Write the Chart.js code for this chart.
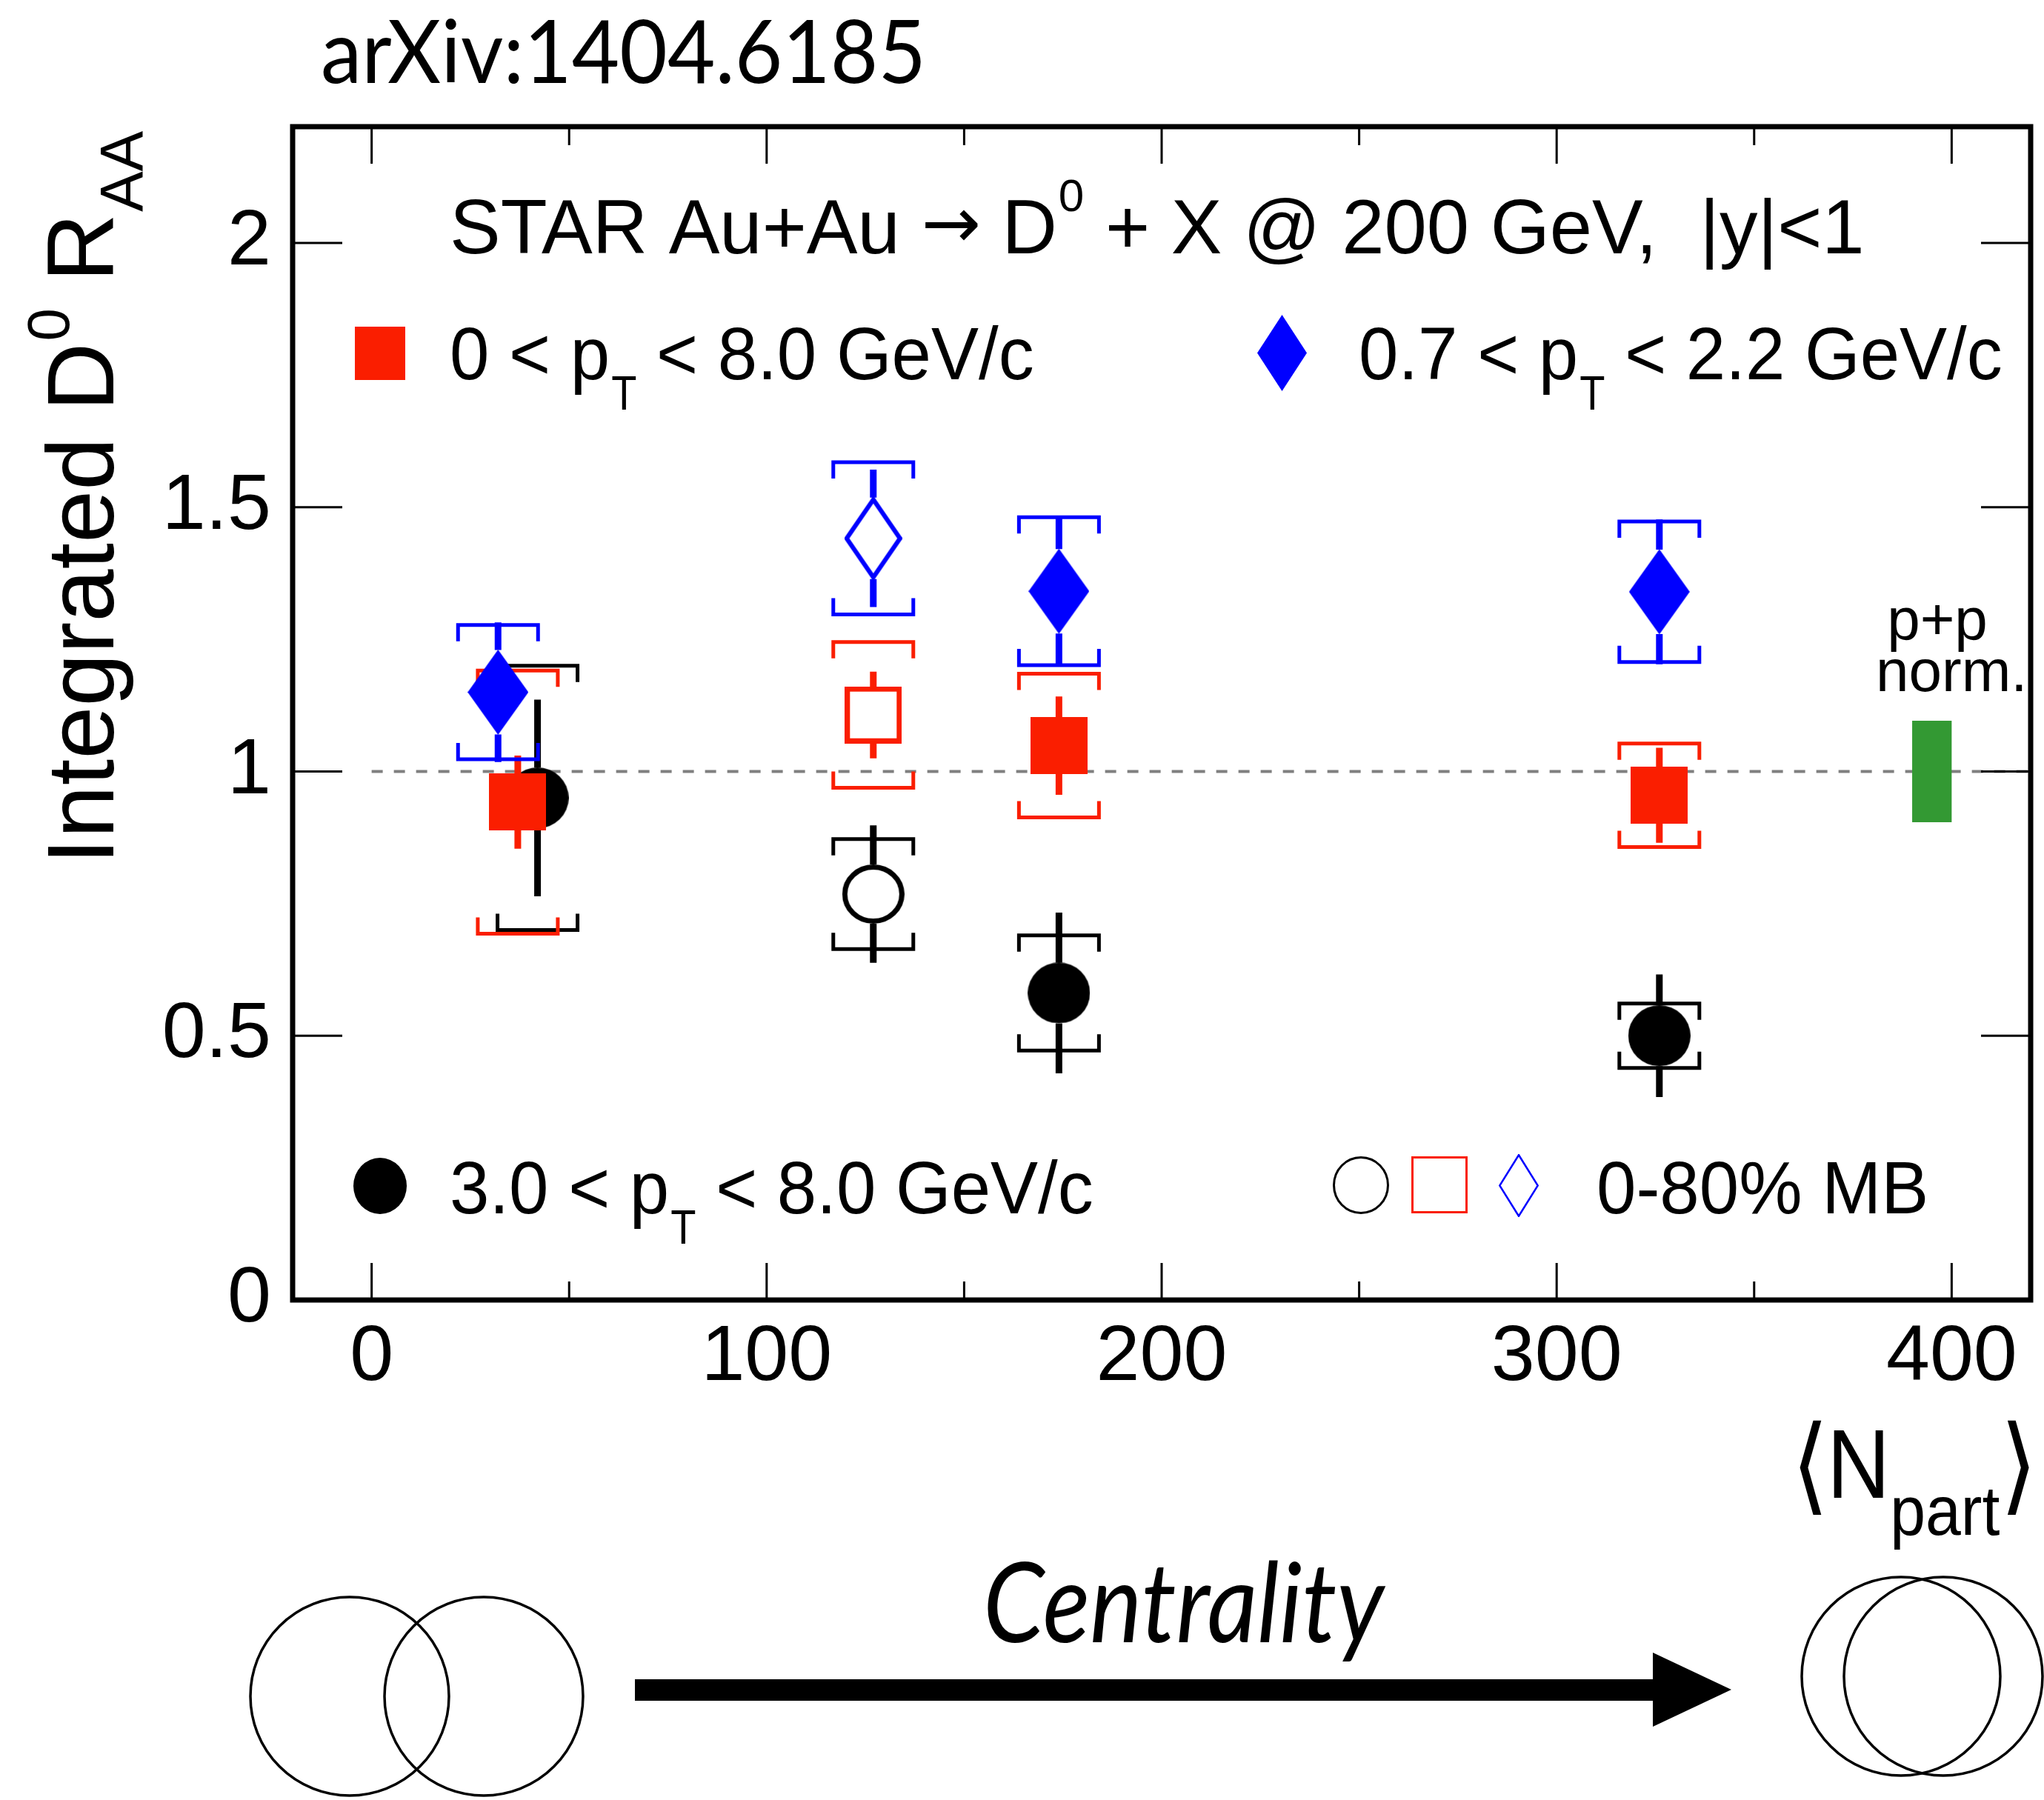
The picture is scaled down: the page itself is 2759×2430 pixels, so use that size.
<!DOCTYPE html>
<html>
<head>
<meta charset="utf-8">
<title>Integrated D0 RAA vs Npart</title>
<script src="https://cdn.jsdelivr.net/npm/chart.js@4.4.1/dist/chart.umd.min.js"></script>
<style>
  html, body { margin: 0; padding: 0; background: #fff; }
  canvas { display: block; }
</style>
</head>
<body>
<canvas id="raa" width="2759" height="2430"></canvas>
<script>
// axis ticks
const xTicks = [0, 100, 200, 300, 400];
const xMinorTicks = [50, 150, 250, 350];
const yTicks = [0, 0.5, 1, 1.5, 2];

// 0.7 < pT < 2.2 GeV/c
const npartBlue = [32, 174, 326];
const raaBlue = [1.150, 1.341, 1.340];
const statBlue = [0.132, 0.140, 0.137];
const sysBlue = [0.127, 0.140, 0.133];

// 0 < pT < 8.0 GeV/c
const npartRed = [37, 174, 326];
const raaRed = [0.942, 1.049, 0.955];
const statRed = [0.088, 0.093, 0.090];
const sysRed = [0.249, 0.136, 0.098];

// 3.0 < pT < 8.0 GeV/c
const npartBlack = [42, 174, 326];
const raaBlack = [0.950, 0.581, 0.500];
const statBlack = [0.186, 0.152, 0.116];
const sysBlack = [0.250, 0.109, 0.061];

// 0-80% minimum bias: [3.0-8.0, 0-8.0, 0.7-2.2]
const npartMB = 127;
const raaMB = [0.768, 1.107, 1.441];
const statMB = [0.130, 0.082, 0.130];
const sysMB = [0.104, 0.138, 0.144];

// p+p normalisation uncertainty box
const ppNormNpart = [390, 400];
const ppNormErr = 0.096;
const refLine = 1;

const ptLo = ['0', '0.7', '3.0'];
const ptHi = ['8.0', '2.2', '8.0'];

const SANS = '"Liberation Sans", Arial, Helvetica, sans-serif';
const GILL = 'Lato, "Open Sans", sans-serif';
const RED = '#fa1e00';
const BLUE = '#0000ff';
const BLACK = '#000000';

function marker(shape, w, h, color, fill, lw) {
  const c = document.createElement('canvas');
  c.width = w; c.height = h;
  const g = c.getContext('2d');
  g.fillStyle = color; g.strokeStyle = color; g.lineWidth = lw || 1;
  const i = fill ? 0 : lw / 2;
  g.beginPath();
  if (shape === 'square') {
    g.rect(i, i, w - 2 * i, h - 2 * i);
  } else if (shape === 'diamond') {
    g.moveTo(w / 2, i); g.lineTo(w - i, h / 2); g.lineTo(w / 2, h - i); g.lineTo(i, h / 2);
    g.closePath();
  } else {
    g.ellipse(w / 2, h / 2, w / 2 - i, h / 2 - i, 0, 0, 2 * Math.PI);
  }
  if (fill) g.fill(); else g.stroke();
  return c;
}

function points(xs, ys, stat, sys) {
  return ys.map((y, i) => ({ x: Array.isArray(xs) ? xs[i] : xs, y, stat: stat[i], sys: sys[i] }));
}

function series(data, color, style, half) {
  return { data, borderColor: color, backgroundColor: color, pointStyle: style, pointRadius: 40, half };
}

const datasets = [
  series(points(npartBlue, raaBlue, statBlue, sysBlue), BLUE, marker('diamond', 82, 115, BLUE, true), 57),
  series(points(npartMB, [raaMB[2]], [statMB[2]], [sysMB[2]]), BLUE, marker('diamond', 78, 111, BLUE, false, 6), 55),
  series(points(npartRed, raaRed, statRed, sysRed), RED, marker('square', 77, 77, RED, true), 38),
  series(points(npartMB, [raaMB[1]], [statMB[1]], [sysMB[1]]), RED, marker('square', 77, 77, RED, false, 7), 38),
  series(points(npartBlack, raaBlack, statBlack, sysBlack), BLACK, marker('circle', 84, 82, BLACK, true), 41),
  series(points(npartMB, [raaMB[0]], [statMB[0]], [sysMB[0]]), BLACK, marker('circle', 84, 80, BLACK, false, 7), 40)
];

// statistical bars + systematic brackets, drawn just below each series' markers
const errorBars = {
  id: 'errorBars',
  beforeDatasetDraw(chart, args) {
    const ds = chart.data.datasets[args.index];
    const { x, y } = chart.scales;
    const ctx = chart.ctx;
    const bw = 54, cap = 22;
    ctx.save();
    ctx.strokeStyle = ds.borderColor;
    ctx.lineCap = 'butt';
    ctx.lineJoin = 'miter';
    ds.data.forEach(p => {
      const px = x.getPixelForValue(p.x);
      const py = y.getPixelForValue(p.y);
      const top = y.getPixelForValue(p.y + p.sys);
      const bot = y.getPixelForValue(p.y - p.sys);
      ctx.lineWidth = 5;
      ctx.beginPath();
      ctx.moveTo(px - bw, top + cap); ctx.lineTo(px - bw, top); ctx.lineTo(px + bw, top); ctx.lineTo(px + bw, top + cap);
      ctx.moveTo(px - bw, bot - cap); ctx.lineTo(px - bw, bot); ctx.lineTo(px + bw, bot); ctx.lineTo(px + bw, bot - cap);
      ctx.stroke();
      const sTop = y.getPixelForValue(p.y + p.stat);
      const sBot = y.getPixelForValue(p.y - p.stat);
      ctx.lineWidth = 9;
      ctx.beginPath();
      if (sTop < py - ds.half) { ctx.moveTo(px, sTop); ctx.lineTo(px, py - ds.half); }
      if (sBot > py + ds.half) { ctx.moveTo(px, py + ds.half); ctx.lineTo(px, sBot); }
      ctx.stroke();
    });
    ctx.restore();
  }
};

// dashed unity line and p+p normalisation box
const reference = {
  id: 'reference',
  beforeDatasetsDraw(chart) {
    const { x, y } = chart.scales;
    const ctx = chart.ctx;
    ctx.save();
    ctx.strokeStyle = '#808080';
    ctx.lineWidth = 4;
    ctx.setLineDash([15, 15]);
    ctx.beginPath();
    ctx.moveTo(x.getPixelForValue(0), y.getPixelForValue(refLine));
    ctx.lineTo(chart.chartArea.right, y.getPixelForValue(refLine));
    ctx.stroke();
    ctx.setLineDash([]);
    ctx.fillStyle = '#339933';
    const x0 = x.getPixelForValue(ppNormNpart[0]), x1 = x.getPixelForValue(ppNormNpart[1]);
    const y0 = y.getPixelForValue(refLine + ppNormErr), y1 = y.getPixelForValue(refLine - ppNormErr);
    ctx.fillRect(x0, y0, x1 - x0, y1 - y0);
    ctx.restore();
  }
};

function put(ctx, s, x, y, size, o = {}) {
  ctx.save();
  ctx.font = `${o.style || ''} ${size}px ${o.family || SANS}`;
  ctx.fillStyle = '#000';
  ctx.textBaseline = 'alphabetic';
  ctx.textAlign = o.align || 'left';
  const w = ctx.measureText(s).width;
  const sx = o.width ? o.width / w : 1;
  ctx.translate(x, y);
  ctx.scale(sx, o.sy || 1);
  ctx.fillText(s, 0, 0);
  ctx.restore();
  return x + w * sx;
}

function ptLabel(ctx, i, x, y) {
  const px = put(ctx, ptLo[i] + ' < p', x, y, 96, { sy: 1.05 });
  const tx = put(ctx, 'T', px + 2, y + 41, 56, { sy: 1.15 });
  put(ctx, ' < ' + ptHi[i] + ' GeV/c', tx, y, 96, { sy: 1.05 });
}

const annotations = {
  id: 'annotations',
  afterDraw(chart) {
    const ctx = chart.ctx;
    const a = chart.chartArea;
    const { x, y } = chart.scales;

    put(ctx, 'arXiv:1404.6185', 433, 112, 118, { family: GILL, width: 817 });

    // header
    let cx = put(ctx, 'STAR Au+Au ', 607, 342, 103);
    cx = put(ctx, '\u2192', cx, 334, 96, { family: '"DejaVu Sans"' });
    cx = put(ctx, ' D', cx, 342, 103);
    cx = put(ctx, '0', cx + 2, 285, 62);
    put(ctx, ' + X @ 200 GeV,  |y|<1', cx, 342, 103);

    // legend
    ctx.drawImage(marker('square', 68, 72, RED, true), 479, 441);
    ptLabel(ctx, 0, 607, 512);
    ctx.drawImage(marker('diamond', 67, 103, BLUE, true), 1697, 425);
    ptLabel(ctx, 1, 1834, 512);
    ctx.drawImage(marker('circle', 72, 76, BLACK, true), 477, 1563);
    ptLabel(ctx, 2, 607, 1638);
    ctx.drawImage(marker('circle', 76, 78, BLACK, false, 3), 1799, 1561);
    ctx.drawImage(marker('square', 76, 77, RED, false, 3), 1905, 1561);
    ctx.drawImage(marker('diamond', 54, 85, BLUE, false, 2.5), 2023, 1558);
    put(ctx, '0-80% MB', 2155, 1638, 96, { sy: 1.05 });

    // p+p norm. label over the box
    put(ctx, 'p+p', 2615, 863, 80, { align: 'center' });
    put(ctx, 'norm.', 2532, 933, 80);

    // y axis title
    ctx.save();
    ctx.translate(153, 1167);
    ctx.rotate(-Math.PI / 2);
    cx = put(ctx, 'Integrated D', 0, 0, 128);
    cx = put(ctx, '0', cx + 2, -60, 80);
    cx = put(ctx, ' R', cx, 0, 128);
    put(ctx, 'AA', cx + 2, 39, 82);
    ctx.restore();

    // x axis title
    put(ctx, '\u27E8', 2418, 2026, 130, { family: '"DejaVu Sans"', sy: 1.1 });
    cx = put(ctx, 'N', 2466, 2022, 118, { sy: 1.12 });
    cx = put(ctx, 'part', cx, 2072, 86, { sy: 1.1 });
    put(ctx, '\u27E9', cx, 2026, 130, { family: '"DejaVu Sans"', sy: 1.1 });

    // centrality sketch
    ctx.save();
    ctx.strokeStyle = '#000';
    ctx.lineWidth = 3.5;
    [[472, 2290], [653, 2290], [2566, 2263], [2623, 2263]].forEach(([cxx, cyy]) => {
      ctx.beginPath();
      ctx.arc(cxx, cyy, 134, 0, 2 * Math.PI);
      ctx.stroke();
    });
    ctx.fillStyle = '#000';
    ctx.fillRect(857, 2267, 1380, 29);
    ctx.beginPath();
    ctx.moveTo(2231, 2231); ctx.lineTo(2337, 2281); ctx.lineTo(2231, 2331);
    ctx.closePath();
    ctx.fill();
    ctx.restore();
    put(ctx, 'Centrality', 1327, 2217, 150, { family: GILL, style: 'italic', width: 541 });

    // frame with inward ticks on all four sides
    ctx.save();
    ctx.strokeStyle = '#000';
    ctx.lineWidth = 3;
    ctx.beginPath();
    xTicks.forEach(v => {
      const px = x.getPixelForValue(v);
      ctx.moveTo(px, a.bottom); ctx.lineTo(px, a.bottom - 50);
      ctx.moveTo(px, a.top); ctx.lineTo(px, a.top + 50);
    });
    xMinorTicks.forEach(v => {
      const px = x.getPixelForValue(v);
      ctx.moveTo(px, a.bottom); ctx.lineTo(px, a.bottom - 25);
      ctx.moveTo(px, a.top); ctx.lineTo(px, a.top + 25);
    });
    yTicks.forEach(v => {
      const py = y.getPixelForValue(v);
      ctx.moveTo(a.left, py); ctx.lineTo(a.left + 67, py);
      ctx.moveTo(a.right, py); ctx.lineTo(a.right - 67, py);
    });
    ctx.stroke();
    ctx.lineWidth = 7;
    ctx.strokeRect(a.left, a.top, a.right - a.left, a.bottom - a.top);
    ctx.restore();
  }
};

new Chart(document.getElementById('raa'), {
  type: 'scatter',
  data: { datasets },
  options: {
    responsive: false,
    devicePixelRatio: 1,
    animation: false,
    events: [],
    layout: { autoPadding: false, padding: { top: 171, right: 18, left: 0, bottom: 0 } },
    plugins: { legend: { display: false }, tooltip: { enabled: false } },
    scales: {
      x: {
        type: 'linear',
        min: -20,
        max: 420,
        grid: { display: false, drawTicks: false },
        border: { display: false },
        afterBuildTicks: s => { s.ticks = xTicks.map(v => ({ value: v })); },
        afterFit: s => { s.height = 675; s.paddingLeft = 0; s.paddingRight = 0; },
        ticks: { color: '#000', font: { family: SANS, size: 106 }, padding: 15, maxRotation: 0, autoSkip: false }
      },
      y: {
        type: 'linear',
        min: 0,
        max: 2.22,
        grid: { display: false, drawTicks: false },
        border: { display: false },
        afterBuildTicks: s => { s.ticks = yTicks.map(v => ({ value: v })); },
        afterFit: s => { s.width = 395; s.paddingTop = 0; s.paddingBottom = 0; },
        ticks: { color: '#000', font: { family: SANS, size: 106 }, padding: 29, autoSkip: false, callback: v => String(v) }
      }
    }
  },
  plugins: [reference, errorBars, annotations]
});
</script>
</body>
</html>
